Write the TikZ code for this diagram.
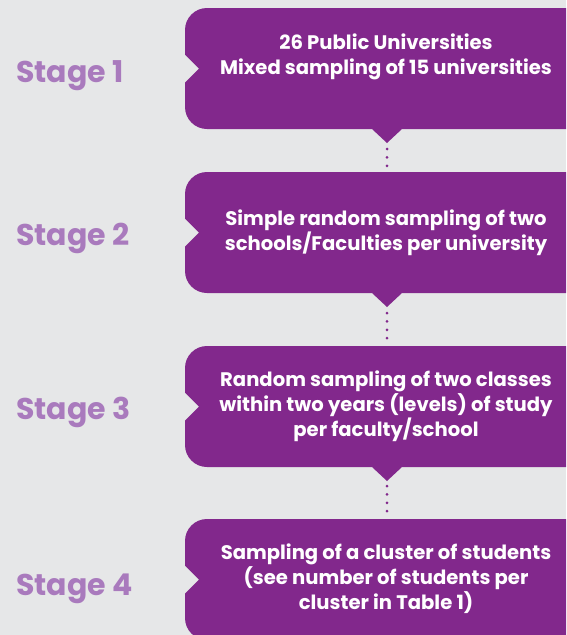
\documentclass[tikz,border=0pt]{standalone}
\usepackage{fontspec}
\setmainfont{Poppins}
\definecolor{bgc}{HTML}{E6E7E8}
\definecolor{boxc}{HTML}{82288C}
\definecolor{stagec}{HTML}{A97ABD}
\begin{document}
\begin{tikzpicture}[x=1pt,y=1pt,
  boxfill/.style={fill=boxc},
  boxtext/.style={text=white,align=center,font=\fontsize{19.6}{25}\selectfont\bfseries,inner sep=0pt},
  stagetext/.style={text=stagec,anchor=base west,inner sep=0pt,font=\fontsize{30}{32}\selectfont\bfseries},
  dotline/.style={draw=boxc,line width=3pt,line cap=round,dash pattern=on 0pt off 8.4pt}]
\useasboundingbox (0,0) rectangle (566,-635);
\fill[bgc] (0,0) rectangle (566,-635);
\begin{scope}
\clip (0,0) rectangle (566,-635);
% box 1: T=8 B=129 C=68.5
\fill[boxfill] (600,-8) -- (207,-8) arc[start angle=90,end angle=180,radius=22]
  -- (185,-54.5) -- (199,-68.5) -- (185,-82.5) -- (185,-107)
  arc[start angle=180,end angle=270,radius=22] -- (372,-129) -- (387,-143) -- (402,-129) -- (600,-129) -- cycle;
% box 2: T=172 B=293 C=232.5
\fill[boxfill] (600,-172) -- (207,-172) arc[start angle=90,end angle=180,radius=22]
  -- (185,-218.5) -- (199,-232.5) -- (185,-246.5) -- (185,-271)
  arc[start angle=180,end angle=270,radius=22] -- (372,-293) -- (387,-307) -- (402,-293) -- (600,-293) -- cycle;
% box 3: T=346 B=467 C=406.5
\fill[boxfill] (600,-346) -- (207,-346) arc[start angle=90,end angle=180,radius=22]
  -- (185,-392.5) -- (199,-406.5) -- (185,-420.5) -- (185,-445)
  arc[start angle=180,end angle=270,radius=22] -- (372,-467) -- (387,-481) -- (402,-467) -- (600,-467) -- cycle;
% box 4: T=519 B=640 C=579.5
\fill[boxfill] (600,-519) -- (207,-519) arc[start angle=90,end angle=180,radius=22]
  -- (185,-565.5) -- (199,-579.5) -- (185,-593.5) -- (185,-618)
  arc[start angle=180,end angle=270,radius=22] -- (600,-640) -- cycle;
\end{scope}
\coordinate (tip1) at (387,-143);
\coordinate (top2) at (387,-172);
\coordinate (tip2) at (387,-307);
\coordinate (top3) at (387,-346);
\coordinate (tip3) at (387,-481);
\coordinate (top4) at (387,-519);
\draw[dotline] ([yshift=-6pt]tip1) -- ([yshift=5pt]top2);
\draw[dotline] ([yshift=-6pt]tip2) -- ([yshift=7pt]top3);
\draw[dotline] ([yshift=-5pt]tip3) -- ([yshift=1pt]top4);
\node[boxtext] (t1) at (386,-57) {26 Public Universities\\Mixed sampling of 15 universities};
\node[boxtext] (t2) at (386,-232.5) {Simple random sampling of two\\schools/Faculties per university};
\node[boxtext] (t3) at (386,-406) {Random sampling of two classes\\within two years (levels) of study\\per faculty/school};
\node[boxtext] (t4) at (386,-579) {Sampling of a cluster of students\\(see number of students per\\cluster in Table 1)};
\node[stagetext] (s1) at (16,-82) {Stage 1};
\node[stagetext] (s2) at (16,-245) {Stage 2};
\node[stagetext] (s3) at (16,-419) {Stage 3};
\node[stagetext] (s4) at (16,-595) {Stage 4};
\end{tikzpicture}
\end{document}
